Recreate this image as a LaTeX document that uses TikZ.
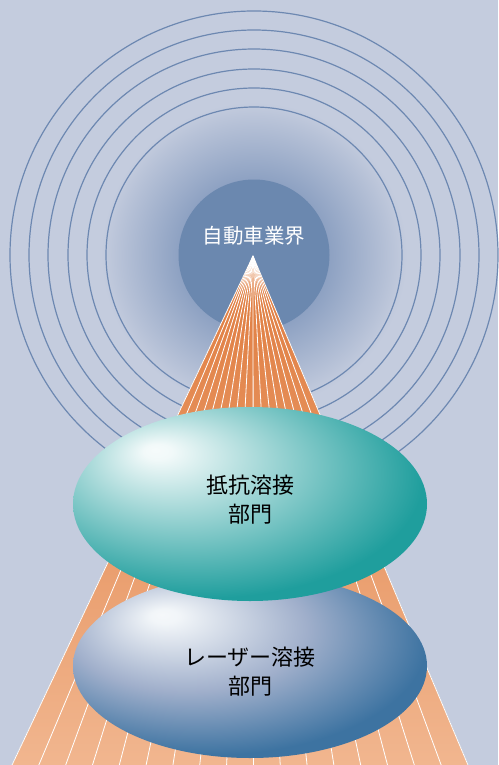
\documentclass[tikz,border=0pt]{standalone}
\usepackage{fontspec}
\newfontfamily\cjk{Noto Sans CJK JP}
\usetikzlibrary{shapes.geometric,calc}
\definecolor{bg}{HTML}{C4CCDE}
\definecolor{glowa}{HTML}{8DA1C2}
\definecolor{glowc}{HTML}{7D94B9}
\definecolor{ringc}{HTML}{6D88B1}
\definecolor{discc}{HTML}{6B88AF}
\definecolor{conetop}{HTML}{DF7A3C}
\definecolor{conemid}{HTML}{E68F5A}
\definecolor{conebot}{HTML}{F1B68F}
\definecolor{tealc}{HTML}{1F9E9D}
\definecolor{steelc}{HTML}{3D73A1}
\definecolor{steelm}{HTML}{A0AFCB}
\pgfdeclareradialshading{glowshade}{\pgfpointorigin}{color(0bp)=(glowc); color(11bp)=(glowa); color(22.5bp)=(bg); color(50bp)=(bg)}
\pgfdeclareradialshading{tealball}{\pgfpoint{-13.5bp}{14bp}}{color(0bp)=(white!96!tealc); color(2bp)=(white!94!tealc); color(31bp)=(tealc); color(60bp)=(tealc)}
\pgfdeclareradialshading{steelball}{\pgfpoint{-12.5bp}{14bp}}{color(0bp)=(white!95!steelc); color(2bp)=(white!93!steelc); color(17bp)=(steelm); color(31bp)=(steelc); color(60bp)=(steelc)}
\tikzset{
  ring/.style={draw=ringc, line width=1.2pt},
  ray/.style={draw=white, line width=0.8pt},
  blob/.style={ellipse, inner sep=0pt, minimum width=354pt},
  label/.style={font=\cjk\fontsize{22}{29}\selectfont, align=center, text=black},
}
\begin{document}
\begin{tikzpicture}[x=1pt,y=-1pt]
\useasboundingbox (0,0) rectangle (498,765);
\fill[bg] (0,0) rectangle (498,765);
\coordinate (c) at (254,255);
\shade[shading=glowshade] (c) circle[radius=170pt];
\foreach \r in {148,167,186,206,225,244} \draw[ring] (c) circle[radius=\r pt];
\node[circle, fill=discc, minimum size=151pt, inner sep=0pt] (hub) at (c) {};
\node[font=\cjk\fontsize{20.5}{24}\selectfont, text=white] (hubtext) at (254,236) {自動車業界};
\coordinate (apex) at (253,256);
\coordinate (bl) at (12,765);
\coordinate (br) at (468,765);
\fill[top color=conetop, middle color=conemid, bottom color=conebot] (apex) -- (bl) -- (br) -- cycle;
\foreach \i in {0,...,17} \draw[ray] (apex) -- ($(bl)!\i/17!(br)$);
\node[blob, minimum height=184pt, shading=steelball] (laser) at (250,666) {};
\node[label] (lasertext) at (250,672) {レーザー溶接\\部門};
\node[blob, minimum height=194pt, shading=tealball] (resist) at (250,504) {};
\node[label] (resisttext) at (250,500) {抵抗溶接\\部門};
\end{tikzpicture}
\end{document}
